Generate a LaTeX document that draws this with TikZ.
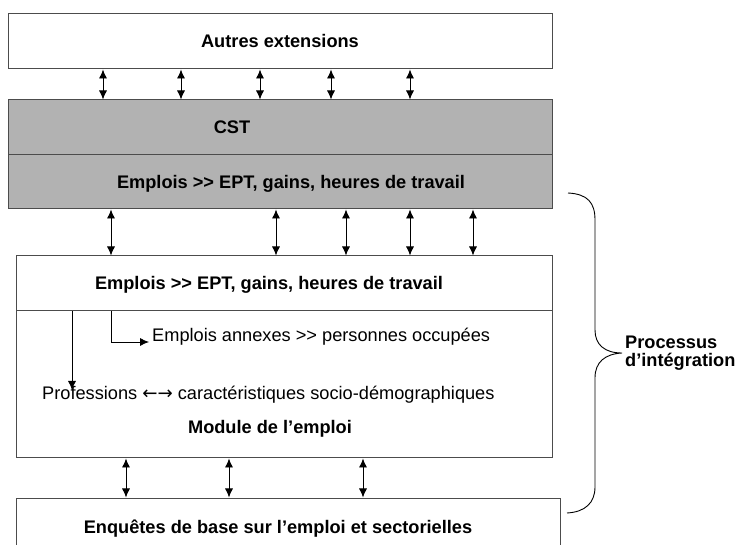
\documentclass[tikz,border=0pt]{standalone}
\usepackage{fontspec}
\setmainfont{Liberation Sans}[Ligatures=TeXOff]
\newfontfamily\arrowfont{DejaVu Sans}
\usetikzlibrary{arrows.meta}

\begin{document}
\begin{tikzpicture}[x=1pt,y=-1pt,
  every node/.style={font=\fontsize{18.2}{21}\selectfont},
  panel/.style={draw=black!70, line width=1pt, rectangle, inner sep=0pt},
  shaded/.style={panel, fill=black!30},
  label/.style={inner sep=0pt, anchor=base},
  boldlabel/.style={label, font=\fontsize{18.2}{21}\selectfont\bfseries},
  link/.style={line width=0.8pt, {Latex[length=9pt,width=8pt]}-{Latex[length=9pt,width=8pt]}},
  feed/.style={line width=0.8pt, -{Latex[length=9pt,width=8pt]}},
  brace/.style={line width=0.9pt}]

\useasboundingbox (0,0) rectangle (737,545);
\clip (0,0) rectangle (737,545);

% blocks
\node[panel,  minimum width=544pt, minimum height=55pt]  (ext)  at (280,41.5)  {};
\node[shaded, minimum width=544pt, minimum height=55pt]  (cstA) at (280,127.5) {};
\node[shaded, minimum width=544pt, minimum height=54pt]  (cstB) at (280,182)   {};
\node[panel,  minimum width=536pt, minimum height=55pt]  (modA) at (284,283.5) {};
\node[panel,  minimum width=536pt, minimum height=147pt] (modB) at (284,384.5) {};
\node[panel,  minimum width=544pt, minimum height=62pt]  (base) at (288,529)   {};

% texts
\node[boldlabel] (tExt)  at (280,48)    {Autres extensions};
\node[boldlabel] (tCst)  at (232,134)   {CST};
\node[boldlabel] (tCstB) at (291,188.5) {Emplois >> EPT, gains, heures de travail};
\node[boldlabel] (tModA) at (269,290)   {Emplois >> EPT, gains, heures de travail};
\node[label, anchor=base west] (tAnnex) at (152,341.5) {Emplois annexes >> personnes occupées};
\node[label, anchor=base west] (tProf)  at (42,400) {Professions {\arrowfont ←→} caractéristiques socio-démographiques};
\node[boldlabel] (tMod)  at (270,434)   {Module de l’emploi};
\node[boldlabel] (tBase) at (278,533)   {Enquêtes de base sur l’emploi et sectorielles};
\node[boldlabel, anchor=base west] (tProc1) at (625,348.5) {Processus};
\node[boldlabel, anchor=base west] (tProc2) at (625,366.5) {d’intégration};

% links between the layers
\foreach \x in {103,181,260,331,410}
  \draw[link] (ext.south -| \x,0) -- (cstA.north -| \x,0);
\foreach \x in {111,276,346,410,473}
  \draw[link] (cstB.south -| \x,0) -- (modA.north -| \x,0);
\foreach \x in {126,229,363}
  \draw[link] (modB.south -| \x,0) -- (base.north -| \x,0);

% flows inside the employment module
\coordinate (profEnd) at (72,390);
\coordinate (annexEnd) at (149,342);
\draw[feed] (modA.south -| profEnd) -- (profEnd);
\draw[feed] (modA.south -| 111,0) |- (annexEnd);

% brace for the integration process
\coordinate (brTop) at (568,193);
\coordinate (brTip) at (622,353);
\coordinate (brBot) at (567,513);
\draw[brace] (brTop) .. controls (588,194) and (595,203) .. (595,220)
  -- (595,330) .. controls (595,345) and (605,353) .. (brTip)
  .. controls (605,354) and (595,362) .. (595,378)
  -- (595,487) .. controls (595,503) and (585,512) .. (brBot);
\end{tikzpicture}
\end{document}
